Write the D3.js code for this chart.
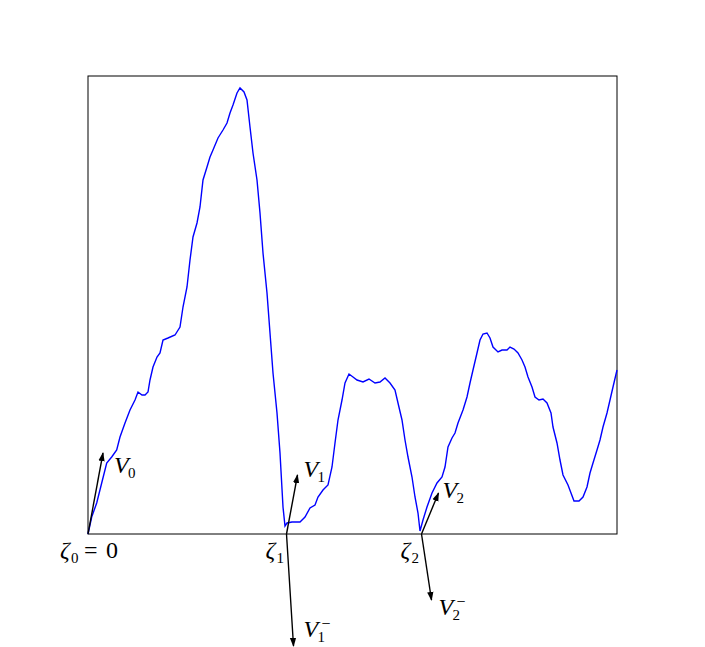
<!DOCTYPE html>
<html><head><meta charset="utf-8">
<script src="https://cdn.jsdelivr.net/npm/d3@7"></script>
<style>body{margin:0;background:#fff}</style>
</head><body><svg id="c" width="705" height="647"></svg>
<script>
// path samples (t, value)
const pathT = [0,3.7,8.7,13.7,18.7,23.7,28.7,32,37,42,47,50,54,57,60,62,65,69,72,75,80,87,92,95,99,102,105,109,112,115,119,122,125,130,135,139,142,145,149,152,156,159,162,165,169,172,175,179,182,185,189,192,195,197,
199,204,212,217,222,227,230,235,240,244,247,250,254,257,261,265,269,275,281,287,292,297,302,307,310,314,317,320,324,327,330,332,
335,339,344,349,354,357,360,364,367,370,375,379,382,385,389,392,395,399,402,405,410,414,419,422,426,430,434,437,440,444,447,451,455,459,463,465,469,472,475,480,483,486,491,495,499,502,505,509,512,515,519,522,525,529];
const pathV = [0,17,31,51,71,77,84,97,111,124,134,142,139,139,142,154,167,177,181,194,196,199,207,227,247,274,297,311,327,354,367,377,384,396,404,411,421,429,441,446,442,434,407,381,354,321,281,241,201,161,121,81,27,8,
11,12,12,17,26,29,37,44,49,67,91,114,134,151,160,157,154,152,155,151,152,156,151,144,131,114,94,77,57,37,21,3,
14,27,41,51,57,67,87,96,101,111,124,137,151,164,181,194,200,201,196,187,182,184,184,187,185,181,174,167,157,147,137,134,135,131,121,107,91,74,59,49,41,33,33,37,47,61,71,84,94,107,121,134,147,164];
// hitting times
const zetaT = [0, 198.5, 333.5];
const zetaLabels = ["0", "1", "2"];
// vectors
const vecOrigin = [0, 1, 1, 2, 2];
const vecDX = [15, 11, 7, 17, 10];
const vecDY = [81, 59, -112, 41, -66];
const vecSub = ["0", "1", "1", "2", "2"];
const vecMinus = [false, false, true, false, true];

const svg = d3.select("#c");
const x = d3.scaleLinear().domain([0, 529]).range([88, 617]);
const y = d3.scaleLinear().domain([0, 458]).range([534, 76]);

svg.append("defs").append("marker")
  .attr("id","ah").attr("viewBox","0 0 10 10").attr("refX",9).attr("refY",5)
  .attr("markerWidth",9).attr("markerHeight",9).attr("markerUnits","userSpaceOnUse")
  .attr("orient","auto")
  .append("path").attr("d","M0,1.5 L10,5 L0,8.5 Z").attr("fill","#000");

svg.append("rect").attr("x",x(0)).attr("y",y(458)).attr("width",x(529)-x(0)).attr("height",y(0)-y(458))
  .attr("fill","none").attr("stroke","#000").attr("stroke-width",1);

const pts = pathT.map((t,i)=>[t,pathV[i]]);
svg.append("path").datum(pts)
  .attr("d", d3.line().x(d=>x(d[0])).y(d=>y(d[1])))
  .attr("fill","none").attr("stroke","#0000ff").attr("stroke-width",1.4);

const font = "'Liberation Serif','Times New Roman',serif";
const labelOff = [[11,20],[6,2],[10,-9],[4,5],[7,15]];
vecDX.forEach((dx,i)=>{
  const t0 = zetaT[vecOrigin[i]];
  const x1 = x(t0), y1 = y(0), x2 = x(t0+dx), y2 = y(vecDY[i]);
  svg.append("line").attr("x1",x1).attr("y1",y1).attr("x2",x2).attr("y2",y2)
    .attr("stroke","#000").attr("stroke-width",1.4).attr("marker-end","url(#ah)");
  const lx = x2 + labelOff[i][0], ly = y2 + labelOff[i][1];
  const g = svg.append("g").attr("font-family",font);
  g.append("text").attr("x",lx).attr("y",ly).attr("font-size",24).attr("font-style","italic").text("V");
  g.append("text").attr("x",lx+14).attr("y",ly+5).attr("font-size",15).text(vecSub[i]);
  if (vecMinus[i]) g.append("text").attr("x",lx+18).attr("y",ly-8).attr("font-size",16).text("−");
});
zetaT.forEach((t,i)=>{
  const lx = i===0 ? x(t)-28 : x(t)-21;
  const g = svg.append("g").attr("font-family",font);
  g.append("text").attr("x",lx).attr("y",558).attr("font-size",24).attr("font-style","italic").text("ζ");
  g.append("text").attr("x",lx+11).attr("y",563).attr("font-size",15).text(zetaLabels[i]);
  if (i===0) {
    g.append("text").attr("x",lx+24).attr("y",558).attr("font-size",24).text("=");
    g.append("text").attr("x",lx+46).attr("y",558).attr("font-size",24).text("0");
  }
});
</script></body></html>
